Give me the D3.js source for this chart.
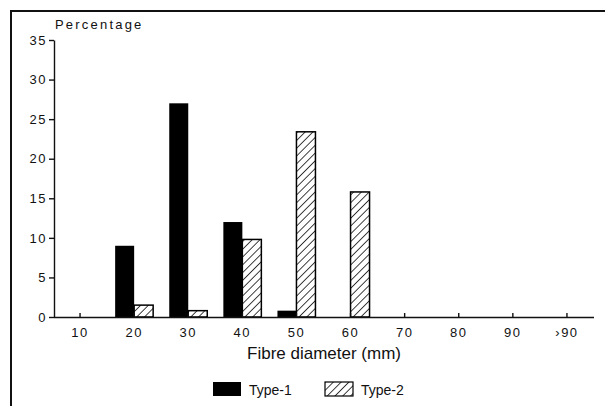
<!DOCTYPE html>
<html>
<head>
<meta charset="utf-8">
<script src="https://cdn.jsdelivr.net/npm/d3@7/dist/d3.min.js"></script>
<style>
  body { margin: 0; background: #fff; }
  svg { display: block; font-family: 'Liberation Sans', Arial, sans-serif; }
  .tick text { font-size: 13px; letter-spacing: 1.5px; fill: #111; }
  .domain, .tick line { stroke: #111; stroke-width: 1.4; }
</style>
</head>
<body>
<div id="chart"></div>
<script>
const categories = ['10', '20', '30', '40', '50', '60', '70', '80', '90', '>90']
const type1 = [0, 9, 27, 12, 0.8, 0, 0, 0, 0, 0]
const type2 = [0, 1.5, 0.8, 9.8, 23.4, 15.8, 0, 0, 0, 0]
const seriesNames = ['Type-1', 'Type-2']
const yTicks = [0, 5, 10, 15, 20, 25, 30, 35]

const width = 605, height = 406
const svg = d3.select('#chart').append('svg')
  .attr('width', width)
  .attr('height', height)

const defs = svg.append('defs')
const hatch = defs.append('pattern')
  .attr('id', 'hatch')
  .attr('patternUnits', 'userSpaceOnUse')
  .attr('width', 5.5).attr('height', 5.5)
  .attr('patternTransform', 'rotate(45)')
hatch.append('rect').attr('width', 5.5).attr('height', 5.5).attr('fill', '#fff')
hatch.append('line')
  .attr('x1', 0).attr('y1', 0).attr('x2', 0).attr('y2', 5.5)
  .attr('stroke', '#111').attr('stroke-width', 1.6)

// page frame (cropped figure)
svg.append('path')
  .attr('d', 'M11,' + height + 'V11H' + width)
  .attr('fill', 'none').attr('stroke', '#111').attr('stroke-width', 2)

const xScale = d3.scaleBand()
  .domain(categories)
  .range([53, 594])

const subScale = d3.scaleBand()
  .domain(seriesNames)
  .range([-19, 19])

const yScale = d3.scaleLinear()
  .domain([0, 35])
  .range([317, 40])

const rows = categories.map((c, i) => ({ cat: c, values: [type1[i], type2[i]] }))

const groups = svg.append('g').classed('bars', true)
  .selectAll('g')
  .data(rows).enter()
  .append('g')
  .attr('transform', d => 'translate(' + (xScale(d.cat) + xScale.bandwidth() / 2) + ', 0)')

groups.selectAll('rect')
  .data(d => d.values.map((v, j) => ({ name: seriesNames[j], value: v })).filter(d => d.value > 0))
  .enter().append('rect')
  .attr('x', d => subScale(d.name))
  .attr('y', d => yScale(d.value))
  .attr('width', subScale.bandwidth())
  .attr('height', d => yScale(0) - yScale(d.value))
  .attr('fill', d => d.name === 'Type-1' ? '#000' : 'url(#hatch)')
  .attr('stroke', '#000')
  .attr('stroke-width', d => d.name === 'Type-1' ? 0 : 1.5)

const vAxis = d3.axisLeft(yScale)
  .tickValues(yTicks)
  .tickSize(5)
  .tickSizeOuter(0)
  .tickPadding(2)
svg.append('g').classed('v-axis', true)
  .attr('transform', 'translate(54, 0)')
  .call(vAxis)

const hAxis = d3.axisBottom(xScale)
  .tickSize(-4)
  .tickSizeOuter(0)
  .tickPadding(11)
svg.append('g').classed('h-axis', true)
  .attr('transform', 'translate(0, 317)')
  .call(hAxis)
svg.selectAll('.h-axis .domain').attr('d', 'M54,0.5H594')
svg.selectAll('.h-axis .tick text').text(d => d === '>90' ? '\u203a90' : d)

svg.append('text')
  .attr('x', 55).attr('y', 29)
  .style('font-size', '13px').style('letter-spacing', '2.2px').style('fill', '#111')
  .text('Percentage')

svg.append('text')
  .attr('x', 324).attr('y', 359)
  .attr('text-anchor', 'middle')
  .style('font-size', '17px').style('fill', '#111')
  .text('Fibre diameter (mm)')

const legend = svg.append('g').classed('legend', true)
  .attr('transform', 'translate(213, 382)')
const legendItems = legend.selectAll('g')
  .data(seriesNames).enter()
  .append('g')
  .attr('transform', (d, i) => 'translate(' + (i * 112) + ', 0)')
legendItems.append('rect')
  .attr('width', 28).attr('height', 14)
  .attr('fill', d => d === 'Type-1' ? '#000' : 'url(#hatch)')
  .attr('stroke', '#000')
  .attr('stroke-width', d => d === 'Type-1' ? 0 : 1.2)
legendItems.append('text')
  .attr('x', 36).attr('y', 13)
  .style('font-size', '14px').style('fill', '#111')
  .text(d => d)
</script>
</body>
</html>
